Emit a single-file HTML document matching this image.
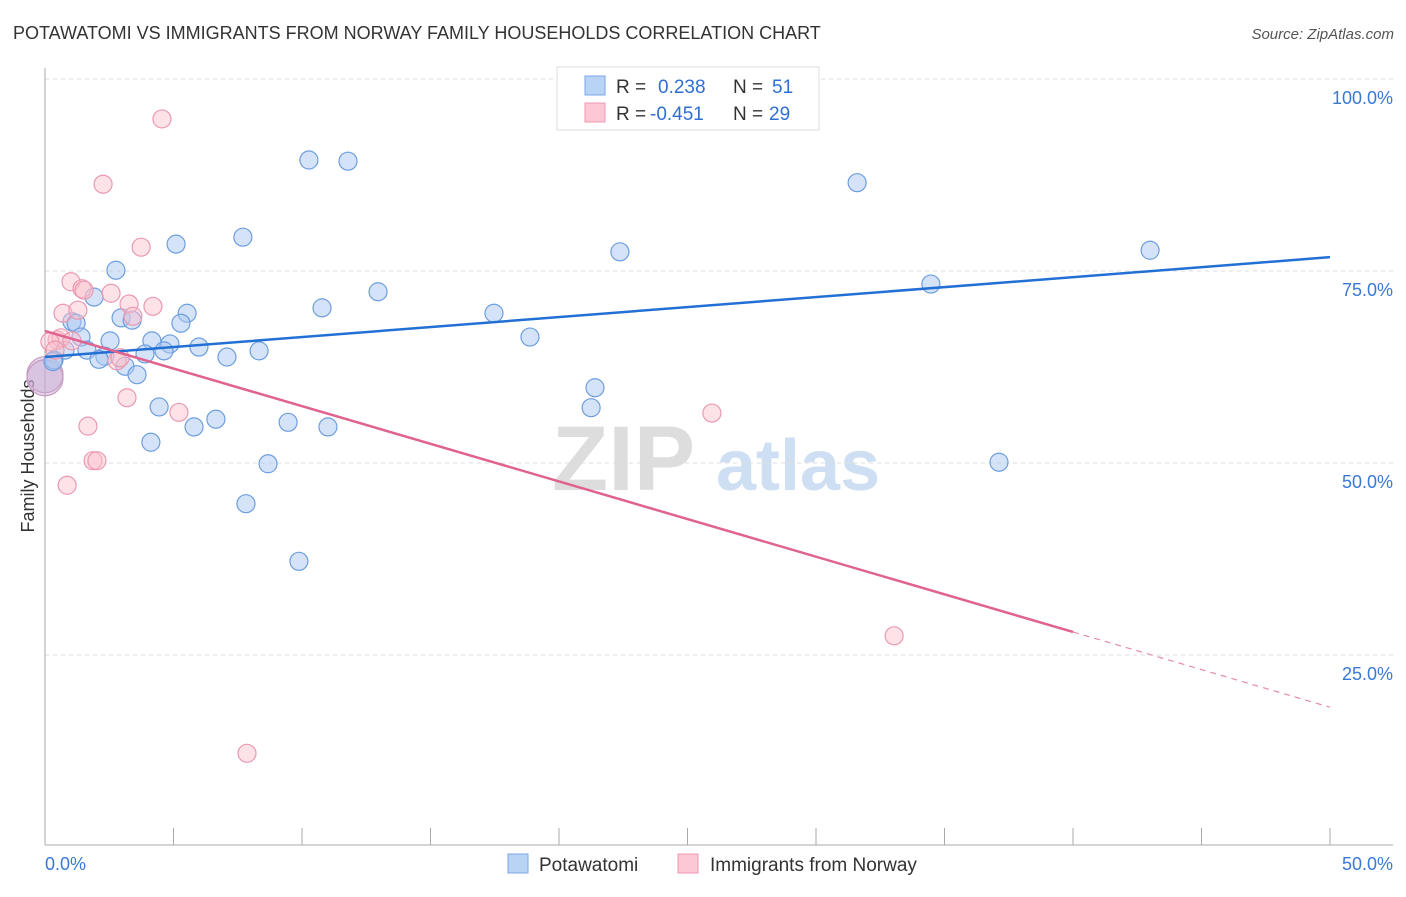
<!DOCTYPE html>
<html><head><meta charset="utf-8"><style>
body{margin:0;background:#fff;font-family:"Liberation Sans",sans-serif}
svg text{font-family:"Liberation Sans",sans-serif}
</style></head><body>
<svg id="chart" width="1406" height="892" xmlns="http://www.w3.org/2000/svg">
<text x="13" y="39" font-size="18" fill="#333">POTAWATOMI VS IMMIGRANTS FROM NORWAY FAMILY HOUSEHOLDS CORRELATION CHART</text>
<text x="1394" y="39" font-size="15" fill="#555" font-style="italic" text-anchor="end">Source: ZipAtlas.com</text>
<g>
<text x="552" y="490" font-size="92" fill="#ddd" font-family="Liberation Serif" font-weight="bold">ZIP</text>
<text x="716" y="490" font-size="72" fill="#cfdff3" font-weight="bold">atlas</text>
</g>
<g id="grid"></g>
<g id="axes"></g>
<text transform="translate(34,456) rotate(-90)" font-size="18" fill="#333" text-anchor="middle">Family Households</text>
<g id="pts"></g>
<g id="lines"></g>
<g>
<rect x="557" y="67" width="262" height="63" fill="#fff" stroke="#ddd"/>
<rect x="585" y="76" width="20" height="19" fill="#b9d3f5" stroke="#7aa6e6"/>
<rect x="585" y="103" width="20" height="19" fill="#fcc8d6" stroke="#ee99b0"/>
<text x="616" y="93" font-size="19" fill="#333">R =</text>
<text x="658" y="93" font-size="19" fill="#2f6fd1">0.238</text>
<text x="733" y="93" font-size="19" fill="#333">N =</text>
<text x="772" y="93" font-size="19" fill="#2f6fd1">51</text>
<text x="616" y="120" font-size="19" fill="#333">R =</text>
<text x="650" y="120" font-size="19" fill="#2f6fd1">-0.451</text>
<text x="733" y="120" font-size="19" fill="#333">N =</text>
<text x="769" y="120" font-size="19" fill="#2f6fd1">29</text>
</g>
<g>
<rect x="508" y="854" width="20" height="19" fill="#b9d3f5" stroke="#7aa6e6"/>
<text x="539" y="871" font-size="19" fill="#333">Potawatomi</text>
<rect x="678" y="854" width="20" height="19" fill="#fcc8d6" stroke="#ee99b0"/>
<text x="710" y="871" font-size="19" fill="#333">Immigrants from Norway</text>
</g>
</svg>
<script>
const blueX=[10.27,11.79,31.6,43.0,22.37,5.10,7.70,2.76,34.47,12.96,1.91,10.78,17.47,5.53,2.96,3.39,5.29,1.05,1.21,18.87,1.40,2.53,4.16,4.86,5.99,0.78,1.63,3.89,4.63,7.08,8.33,2.33,2.10,0.35,3.11,3.58,21.4,21.25,4.44,6.65,9.46,5.80,11.01,4.12,8.68,37.12,7.82,9.88,0.31,25.37];
const blueY=[89.45,89.3,86.5,77.7,77.5,78.5,79.4,75.1,73.3,72.3,71.6,70.2,69.5,69.5,68.9,68.6,68.2,68.4,68.2,66.4,66.4,65.9,65.9,65.5,65.1,64.7,64.7,64.2,64.6,63.8,64.6,63.9,63.5,63.4,62.6,61.5,59.8,57.2,57.3,55.7,55.3,54.7,54.7,52.7,49.9,50.1,44.7,37.2,63.2,99.9];
const pinkX=[4.55,2.26,3.74,1.01,1.44,1.52,2.57,4.2,3.27,0.70,1.28,3.42,0.47,0.62,1.05,0.19,2.8,3.19,1.67,5.21,1.87,2.02,0.86,25.95,33.04,7.86,2.92,0.39];
const pinkY=[94.8,86.3,78.1,73.6,72.7,72.5,72.1,70.4,70.7,69.5,69.9,69.1,66.0,66.3,65.9,65.8,63.3,58.5,54.8,56.6,50.3,50.3,47.1,56.5,27.5,12.2,63.7,64.7];
const bigX=[0,0],bigY=[61.5,61.1];
const yTicks=[100,75,50,25];
const blueTrend=[63.8,76.8];
const pinkTrend=[67.2,28.0,18.2];
const NS="http://www.w3.org/2000/svg";
const X=v=>45+v*25.7, Y=v=>79+(100-v)*7.68;
function mk(t,a,p){const e=document.createElementNS(NS,t);for(const k in a)e.setAttribute(k,a[k]);p.appendChild(e);return e;}
const grid=document.getElementById('grid'),axes=document.getElementById('axes'),pts=document.getElementById('pts'),lines=document.getElementById('lines');
yTicks.forEach(t=>{
 const l=mk('line',{x1:45,x2:1393,y1:Y(t),y2:Y(t),stroke:'#ddd','stroke-dasharray':'4,4'},grid);
 
 
 const tx=mk('text',{x:1393,y:Y(t)+25,'font-size':18,fill:'#3a78d6','text-anchor':'end'},axes);
 tx.textContent=t.toFixed(1)+'%';
 
 
});
let a=mk('line',{x1:45,x2:45,y1:68,y2:845,stroke:'#aaa'},axes);


a=mk('line',{x1:45,x2:1393,y1:845,y2:845,stroke:'#aaa'},axes);


for(let i=0;i<=10;i++){const t=mk('line',{x1:X(i*5),x2:X(i*5),y1:828,y2:845,stroke:'#aaa'},axes);
 
 }
[[0,'0.0%',45,'start'],[50,'50.0%',1393,'end']].forEach(d=>{const t=mk('text',{x:d[2],y:870,'font-size':18,fill:'#3a78d6','text-anchor':d[3]},axes);t.textContent=d[1];
 
 });
function dots(xs,ys,fill,stroke,r,name){xs.forEach((x,i)=>{const c=mk('circle',{cx:X(x),cy:Y(ys[i]),r:r,fill:fill,stroke:stroke,'stroke-width':1.2},pts);
 
 });}
dots(bigX,bigY,'rgba(200,170,210,0.45)','#c79ac0',18,'big-point');
dots(blueX,blueY,'rgba(170,200,240,0.5)','#6d9ee0',9,'potawatomi-point');
dots(pinkX,pinkY,'rgba(250,190,205,0.45)','#eb99b2',9,'norway-point');
let l=mk('line',{x1:X(0),y1:Y(blueTrend[0]),x2:X(50),y2:Y(blueTrend[1]),stroke:'#2270d4','stroke-width':2.5},lines);


l=mk('line',{x1:X(0),y1:Y(pinkTrend[0]),x2:X(40),y2:Y(pinkTrend[1]),stroke:'#e0628f','stroke-width':2.5},lines);


l=mk('line',{x1:X(40),y1:Y(pinkTrend[1]),x2:X(50),y2:Y(pinkTrend[2]),stroke:'#e88aab','stroke-width':1.2,'stroke-dasharray':'6,5'},lines);


</script>
</body></html>
